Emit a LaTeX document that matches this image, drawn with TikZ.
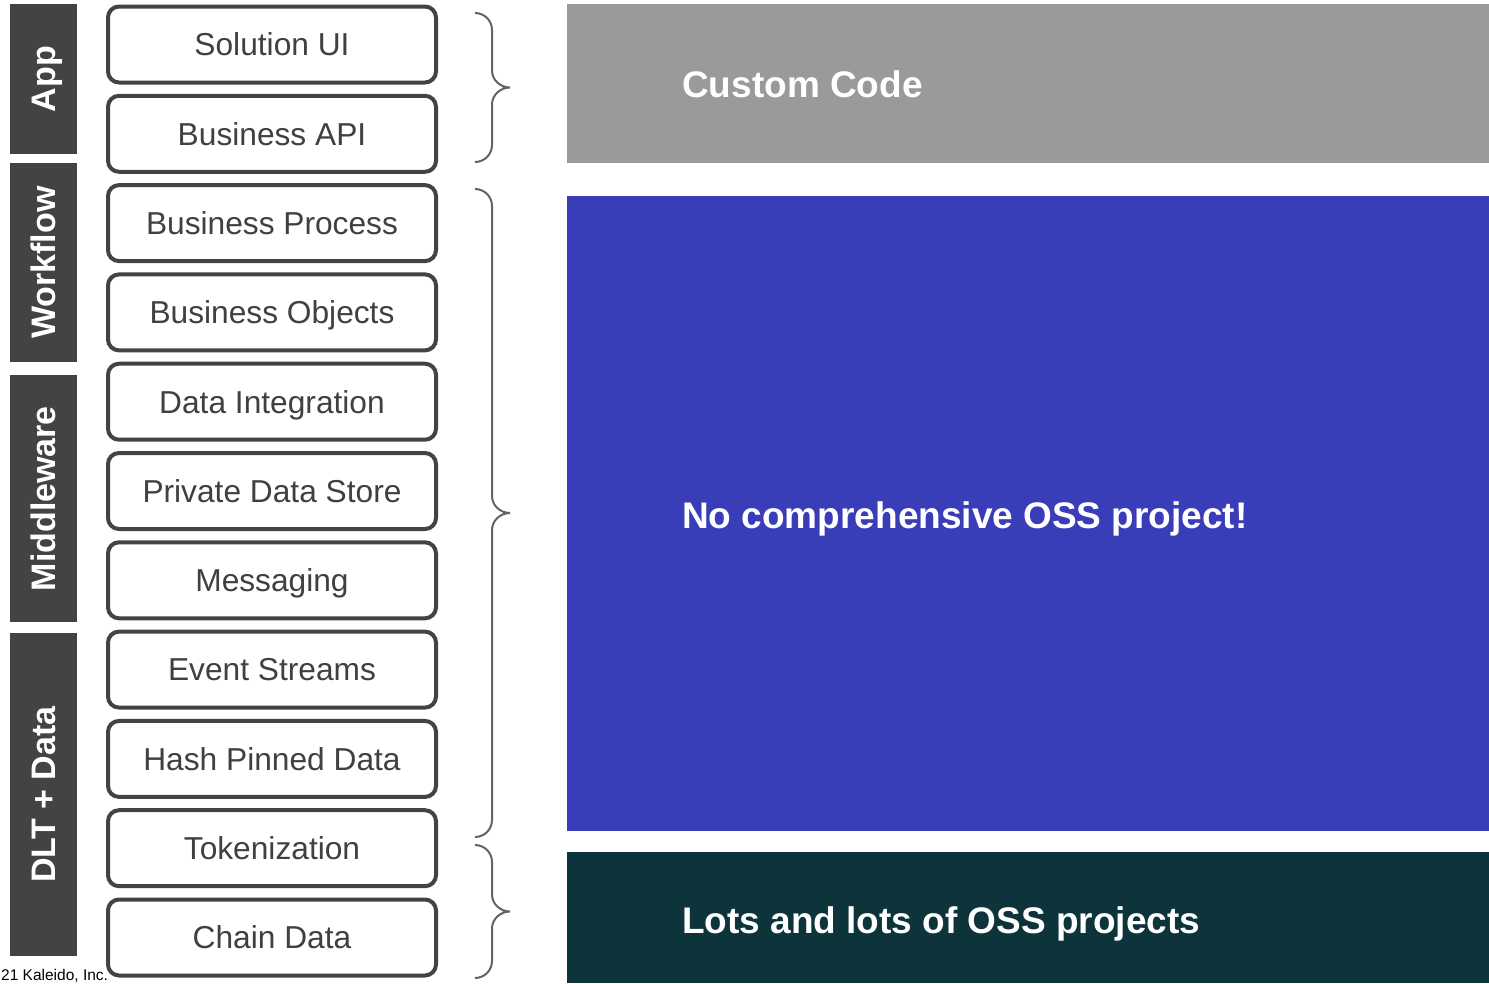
\documentclass[tikz,border=0pt]{standalone}
\usepackage{fontspec}
\setmainfont{Liberation Sans}

\definecolor{edgegrey}{HTML}{434343}
\definecolor{inkgrey}{HTML}{404040}
\definecolor{bracegrey}{HTML}{646464}
\definecolor{panelgrey}{HTML}{9A9A9A}
\definecolor{panelblue}{HTML}{393DB8}
\definecolor{panelteal}{HTML}{0D333B}

% curly bracket spanning rows #1..#2 (top and bottom y), tip pointing right
\newcommand\stackbrace[2]{%
  \pgfmathsetmacro\brTop{#1}%
  \pgfmathsetmacro\brBot{#2}%
  \pgfmathsetmacro\brMid{(#1+#2)/2}%
  \draw[bracket] (475,\brTop) .. controls (484.4,\brTop) and (492,\brTop+7.6) .. (492,\brTop+17)
    -- (492,\brMid-17) .. controls (492,\brMid-7.6) and (500.2,\brMid) .. (510,\brMid)
    .. controls (500.2,\brMid) and (492,\brMid+7.6) .. (492,\brMid+17)
    -- (492,\brBot-17) .. controls (492,\brBot-7.6) and (484.4,\brBot) .. (475,\brBot);}

\begin{document}
\begin{tikzpicture}[x=1pt,y=-1pt,
  layer/.style={draw=edgegrey, line width=4pt, rounded corners=11pt, fill=white,
    minimum width=328pt, minimum height=76pt, inner sep=0pt, text=inkgrey,
    font=\fontsize{31.7}{36}\selectfont, text height=22.7pt, text depth=0pt},
  band/.style={fill=edgegrey, inner sep=0pt, minimum width=67pt, anchor=north west},
  bandlabel/.style={rotate=90, text=white, font=\bfseries\fontsize{34}{40}\selectfont,
    text height=24.3pt, text depth=0pt, inner sep=0pt},
  panel/.style={inner sep=0pt, minimum width=922pt, anchor=north west},
  paneltext/.style={anchor=base west, text=white, inner sep=0pt,
    font=\bfseries\fontsize{37}{44}\selectfont},
  bracket/.style={draw=bracegrey, line width=2pt}]

\useasboundingbox (0,0) rectangle (1489,983);

% tier bands on the left
\node[band, minimum height=150pt] (app) at (10,4) {};
\node[band, minimum height=199pt] (workflow) at (10,163) {};
\node[band, minimum height=247pt] (middleware) at (10,375) {};
\node[band, minimum height=323pt] (dlt) at (10,633) {};
\node[bandlabel] (applabel) at (app.center) {App};
\node[bandlabel] (workflowlabel) at (workflow.center) {Workflow};
\node[bandlabel] (middlewarelabel) at (middleware.center) {Middleware};
\node[bandlabel] (dltlabel) at (dlt.center) {DLT + Data};

% stack of layers
\foreach \t [count=\i from 0] in {Solution UI, Business API, Business Process,
    Business Objects, Data Integration, Private Data Store, Messaging,
    Event Streams, Hash Pinned Data, Tokenization, Chain Data}
  \node[layer] (L\i) at (272, 44.5+\i*89.3) {\t};

% brackets grouping the layers
\stackbrace{13}{162}
\stackbrace{189}{837}
\stackbrace{845}{978}

% panels on the right
\node[panel, fill=panelgrey, minimum height=159pt] (custom) at (567,4) {};
\node[panel, fill=panelblue, minimum height=635pt] (nooss) at (567,196) {};
\node[panel, fill=panelteal, minimum height=131pt] (lots) at (567,852) {};
\node[paneltext] (customtext) at (682,97) {Custom Code};
\node[paneltext] (noosstext) at (682,528) {No comprehensive OSS project!};
\node[paneltext] (lotstext) at (682,933) {Lots and lots of OSS projects};

% footer
\node[anchor=base west, inner sep=0pt, font=\fontsize{15.5}{18}\selectfont] (footer) at (1,980) {21 Kaleido, Inc.};
\end{tikzpicture}
\end{document}
